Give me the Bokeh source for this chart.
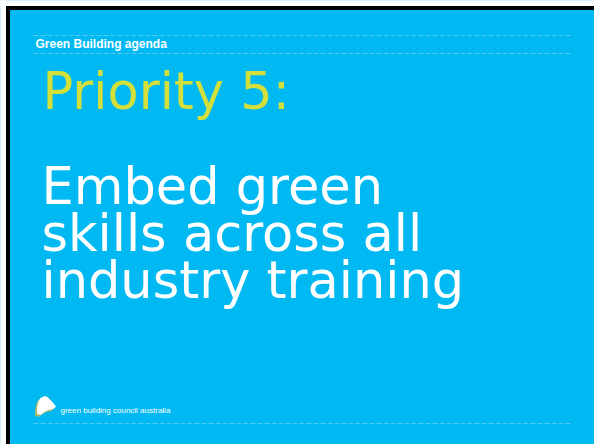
from bokeh.plotting import figure
from bokeh.models import Range1d
from bokeh.core.properties import value
from bokeh.embed import file_html
from bokeh.resources import INLINE

# Slide content
header = ["Green Building agenda"]
title = ["Priority 5:"]
body_lines = ["Embed green", "skills across all", "industry training"]
footer = ["green building council australia"]

BLUE = "#00b9f2"
YELLOW = "#d3df3a"
DASH = "#52ccf2"

W, H = 594, 444
p = figure(width=W, height=H, output_backend="svg", toolbar_location=None,
           x_range=Range1d(0, W), y_range=Range1d(H, 0), min_border=0)
p.axis.visible = False
p.grid.visible = False
p.outline_line_color = None
p.background_fill_color = BLUE
p.border_fill_color = BLUE

# white outside + black frame top / left
p.quad(left=[0, 0], right=[W, 6], top=[0, 0], bottom=[6, H], color="white")
p.quad(left=[6, 6], right=[W, 9], top=[6, 6], bottom=[9, H], color="black")

# dashed rules
for yy in [35, 53, 423]:
    p.line([33, 570], [yy, yy], line_color=DASH, line_width=1, line_dash="5 2")

# header
p.text(x=[35], y=[43.8], text=header, text_color="white", text_font=value("Liberation Sans"),
       text_font_style="bold", text_font_size="12px", text_baseline="middle")

# title
p.text(x=[42], y=[91.3], text=title, text_color=YELLOW, text_font=value("DejaVu Sans"),
       text_font_size="51px", text_baseline="middle")

# body
body_y = [186.3, 233.3, 280.3]
p.text(x=[41] * len(body_lines), y=body_y, text=body_lines, text_color="white",
       text_font=value("DejaVu Sans"), text_font_size="51px", text_baseline="middle")

# logo
wx = [40, 44, 47, 51, 55, 53, 48, 44, 40, 37, 37, 38]
wy = [398, 396, 397, 401, 406, 408, 409, 411, 414, 413, 408, 402]
p.patch([x - 2 for x in wx], [y + 2 for y in wy], color="#a9b86a")
p.patch(wx, wy, color="white")

p.text(x=[60], y=[409.5], text=footer, text_color="white", text_font=value("Liberation Sans"),
       text_font_size="8px", text_baseline="middle")

open("out.html", "w").write(file_html(p, INLINE))
